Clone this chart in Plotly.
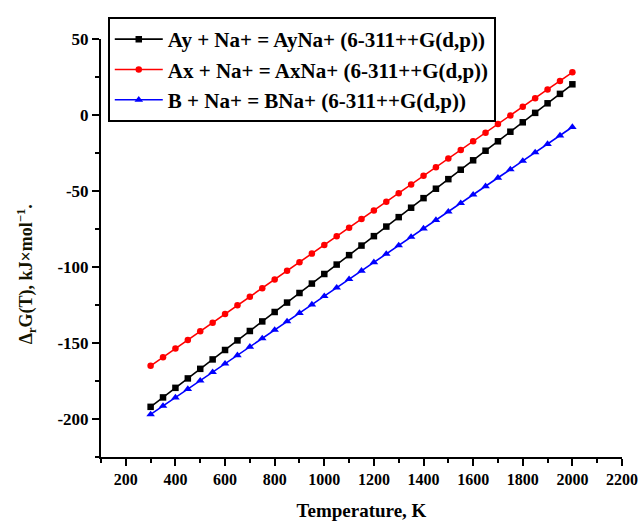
import plotly.graph_objects as go

temperature = [300, 350, 400, 450, 500, 550, 600, 650, 700, 750, 800, 850, 900, 950,
               1000, 1050, 1100, 1150, 1200, 1250, 1300, 1350, 1400, 1450, 1500, 1550,
               1600, 1650, 1700, 1750, 1800, 1850, 1900, 1950, 2000]

ay_na = [-192.0, -185.8, -179.5, -173.3, -167.0, -160.8, -154.6, -148.3, -142.1, -135.8,
         -129.6, -123.4, -117.1, -110.9, -104.6, -98.4, -92.2, -85.9, -79.7, -73.4,
         -67.2, -61.0, -54.7, -48.5, -42.2, -36.0, -29.8, -23.5, -17.3, -11.0,
         -4.8, 1.4, 7.7, 13.9, 20.2]

ax_na = [-165.0, -159.3, -153.6, -148.0, -142.3, -136.6, -130.9, -125.2, -119.6, -113.9,
         -108.2, -102.5, -96.8, -91.2, -85.5, -79.8, -74.1, -68.4, -62.8, -57.1,
         -51.4, -45.7, -40.0, -34.4, -28.7, -23.0, -17.3, -11.6, -6.0, -0.3,
         5.4, 11.1, 16.8, 22.4, 28.1]

b_na = [-197.0, -191.4, -185.9, -180.3, -174.8, -169.2, -163.6, -158.1, -152.5, -147.0,
        -141.4, -135.8, -130.3, -124.7, -119.2, -113.6, -108.0, -102.5, -96.9, -91.4,
        -85.8, -80.2, -74.7, -69.1, -63.6, -58.0, -52.4, -46.9, -41.3, -35.8,
        -30.2, -24.6, -19.1, -13.5, -7.9]

names = ["Ay + Na+ = AyNa+ (6-311++G(d,p))",
         "Ax + Na+ = AxNa+ (6-311++G(d,p))",
         "B + Na+ = BNa+ (6-311++G(d,p))"]

y_tick_vals = [-200, -150, -100, -50, 0, 50]
y_tick_text = ["-200", "-150", "-100", "-50", "0", "50"]

FONT = "Liberation Serif"

fig = go.Figure()
series = [(ay_na, "#000000", "square", 6.5),
          (ax_na, "#ff0000", "circle", 6.5),
          (b_na, "#0000ff", "triangle-up", 7.5)]
for (vals, col, sym, sz), nm in zip(series, names):
    fig.add_trace(go.Scatter(
        x=temperature, y=vals, name=nm, mode="lines+markers",
        line=dict(color=col, width=1.6),
        marker=dict(color=col, symbol=sym, size=sz),
    ))

fig.update_layout(
    width=639, height=523,
    margin=dict(l=101, r=17, t=39, b=66, autoexpand=False),
    paper_bgcolor="white", plot_bgcolor="white",
    font=dict(family=FONT, color="black"),
    showlegend=True,
    legend=dict(
        x=0.013, y=1.0526, xanchor="left", yanchor="top",
        bgcolor="white", bordercolor="black", borderwidth=2,
        font=dict(family=FONT, size=21, color="black", weight="bold"),
        tracegroupgap=0, itemwidth=48,
    ),
    xaxis=dict(
        range=[100, 2200], tick0=200, dtick=200,
        showline=True, linecolor="black", linewidth=2,
        ticks="outside", ticklen=7, tickwidth=2, tickcolor="black",
        showgrid=False, zeroline=False,
        tickfont=dict(family=FONT, size=16, color="black", weight="bold"),
        minor=dict(dtick=100, tick0=100, ticks="outside", ticklen=4, tickwidth=1.5, tickcolor="black"),
        title=dict(text="<b>Temperature, K</b>", font=dict(family=FONT, size=19, color="black"), standoff=16),
    ),
    yaxis=dict(
        range=[-225, 50], tickvals=y_tick_vals, ticktext=y_tick_text,
        showline=True, linecolor="black", linewidth=2,
        ticks="outside", ticklen=7, tickwidth=2, tickcolor="black",
        showgrid=False, zeroline=False,
        tickfont=dict(family=FONT, size=17, color="black", weight="bold"),
        minor=dict(dtick=25, tick0=50, ticks="outside", ticklen=4, tickwidth=1.5, tickcolor="black"),
    ),
    annotations=[dict(
        text="<b>Δ<sub>r</sub>G(T), kJ×mol<sup>−1</sup>.</b>",
        textangle=-90, xref="paper", yref="paper",
        x=-0.144, y=0.437, xanchor="center", yanchor="middle",
        showarrow=False,
        font=dict(family=FONT, size=18, color="#141400"),
    )],
)

fig.write_html("out.html", config={"displayModeBar": False},
               post_script="document.body.style.margin='0';document.body.style.overflow='hidden';")
